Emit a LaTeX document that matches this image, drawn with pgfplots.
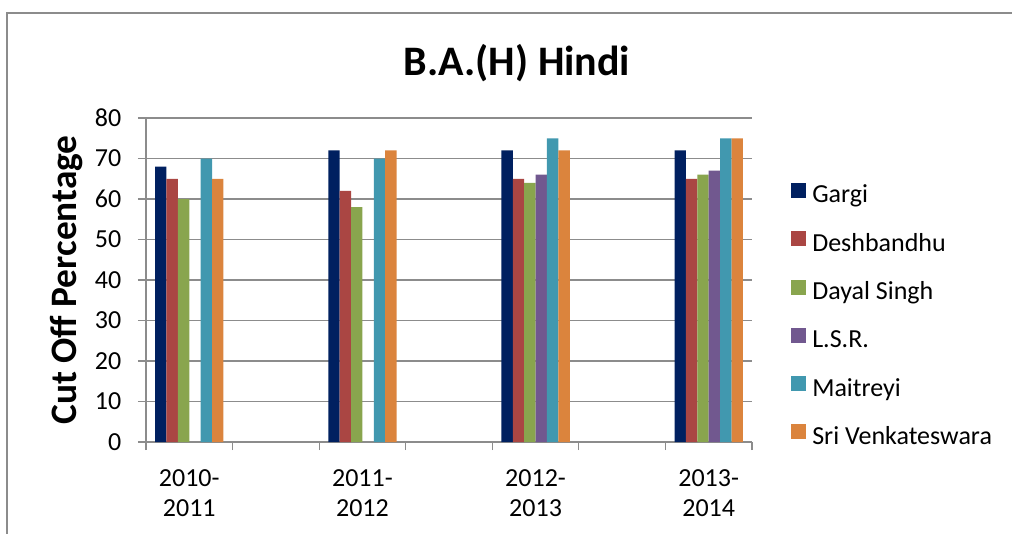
\documentclass[border=0pt]{standalone}
\usepackage{fontspec}
\setmainfont{Carlito}
\usepackage{pgfplots}
\pgfplotsset{compat=1.18}
\definecolor{cGargi}{HTML}{002060}
\definecolor{cDesh}{HTML}{AA4643}
\definecolor{cDayal}{HTML}{89A54E}
\definecolor{cLSR}{HTML}{71588F}
\definecolor{cMait}{HTML}{4198AF}
\definecolor{cSri}{HTML}{DB843D}
\definecolor{gridgray}{HTML}{8C8C8C}

\begin{document}
\begin{tikzpicture}
% page size: 1 px of the reference = 0.75pt, origin at the axis' lower left corner
\useasboundingbox (-109.5pt,-68.25pt) rectangle (649.5pt,331.5pt);
\draw[gridgray, line width=0.9pt] (-104.25pt,-80pt) -- (-104.25pt,321.75pt) -- (700pt,321.75pt);

\begin{axis}[
  at={(0,0)}, anchor=south west,
  scale only axis,
  width=454.5pt, height=243pt,
  ybar=0pt,
  bar width=0.1316,
  xmin=-0.5, xmax=6.5,
  ymin=0, ymax=80,
  ytick={0,10,...,80},
  xtick={0,2,4,6},
  xticklabels={2010-\\2011,2011-\\2012,2012-\\2013,2013-\\2014},
  minor xtick={-0.5,0.5,...,6.5},
  major x tick style={draw=none},
  axis x line*=bottom,
  axis y line*=left,
  axis line style={gridgray, line width=0.9pt},
  tick style={gridgray, line width=0.9pt},
  tick align=outside,
  major tick length=6pt,
  minor tick length=6pt,
  ymajorgrids=true,
  grid style={gridgray, line width=0.9pt},
  tick label style={font=\fontsize{19.5}{24}\selectfont},
  /pgf/number format/assume math mode=true,
  x tick label style={align=center, yshift=-11pt, font=\fontsize{19.5}{23}\selectfont},
  y tick label style={xshift=-9pt},
  legend style={
    at={(1.0644,0.3897)}, anchor=west,
    draw=none, fill=none, inner sep=0pt,
    font=\fontsize{19.5}{24}\selectfont,
    row sep=17.4pt,
    /tikz/every odd column/.append style={column sep=2.5pt},
  },
  legend cell align=left,
  legend image code/.code={\fill[#1] (0pt,-2pt) rectangle (11.25pt,9.25pt);},
]
\addplot[fill=cGargi, draw=none] coordinates {(0,68) (2,72) (4,72) (6,72)};
\addplot[fill=cDesh, draw=none] coordinates {(0,65) (2,62) (4,65) (6,65)};
\addplot[fill=cDayal, draw=none] coordinates {(0,60) (2,58) (4,64) (6,66)};
\addplot[fill=cLSR, draw=none] coordinates {(4,66) (6,67)};
\addplot[fill=cMait, draw=none] coordinates {(0,70) (2,70) (4,75) (6,75)};
\addplot[fill=cSri, draw=none] coordinates {(0,65) (2,72) (4,72) (6,75)};
\legend{Gargi,Deshbandhu,Dayal Singh,L.S.R.,Maitreyi,Sri Venkateswara}
\end{axis}

\node[font=\bfseries\fontsize{31.5}{36}\selectfont] at (278.25pt,284.25pt) {B.A.(H) Hindi};
\node[font=\bfseries\fontsize{28}{32}\selectfont, rotate=90] at (-59.25pt,121.5pt) {Cut Off Percentage};
\end{tikzpicture}
\end{document}
